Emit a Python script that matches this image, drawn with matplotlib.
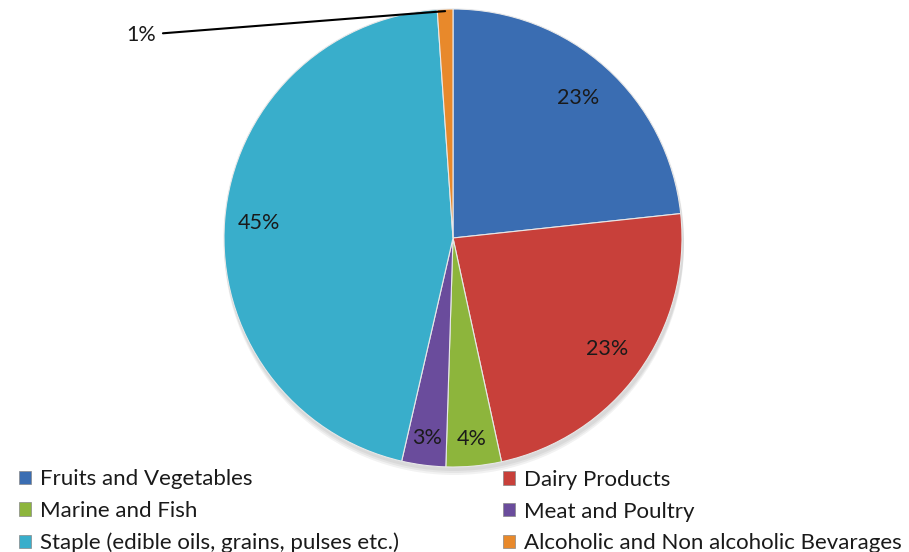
import numpy as np
import matplotlib.pyplot as plt
from matplotlib.patches import Patch

plt.rcParams['font.family'] = ['Lato', 'DejaVu Sans']

# Data
categories = ["Fruits and Vegetables", "Dairy Products", "Marine and Fish",
              "Meat and Poultry", "Staple (edible oils, grains, pulses etc.)",
              "Alcoholic and Non alcoholic Bevarages"]
shares = [23.3, 23.3, 3.9, 3.1, 45.3, 1.1]
pct_labels = ["23%", "23%", "4%", "3%", "45%", "1%"]
colors = ["#3a6db2", "#c8403a", "#8db53c", "#6a4c9c", "#39aecb", "#e8892b"]

W, H = 909, 552
fig = plt.figure(figsize=(W / 100, H / 100), dpi=100)
ax = fig.add_axes([0, 0, 1, 1])

cx, cy, R = 453, H - 238, 229

# soft shadow under the pie
for k in range(3):
    sh = plt.Circle((cx + 1, cy - 3 - k * 2), R + 1, color='k', alpha=0.05, lw=0)
    ax.add_patch(sh)

wedges, _ = ax.pie(shares, colors=colors, startangle=90, counterclock=False,
                   center=(cx, cy), radius=R, frame=True,
                   wedgeprops=dict(edgecolor='#e8e8e8', linewidth=0.8))
ax.set_xlim(0, W)
ax.set_ylim(0, H)
ax.set_aspect('equal')
ax.axis('off')

# percent labels
dists = [0.82, 0.83, 0.88, 0.88, 0.85]
for w, lab, d in zip(wedges[:5], pct_labels[:5], dists):
    ang = np.deg2rad((w.theta1 + w.theta2) / 2)
    ax.text(cx + d * R * np.cos(ang), cy + d * R * np.sin(ang), lab,
            ha='center', va='center', fontsize=15.5, color='#1a1a1a')

# 1% label with leader line
w = wedges[5]
ang = np.deg2rad((w.theta1 + w.theta2) / 2)
px, py = cx + R * np.cos(ang), cy + R * np.sin(ang)
ax.annotate(pct_labels[5], xy=(px, py - 2), xytext=(156, H - 35),
            ha='right', va='center', fontsize=15.5, color='#1a1a1a',
            arrowprops=dict(arrowstyle='-', color='black', lw=1.5,
                            shrinkA=3, shrinkB=0))

# legend, two columns
handles = [Patch(facecolor=c, edgecolor='#888888', lw=0.5) for c in colors]
leg_kw = dict(frameon=False, fontsize=16, handlelength=0.55, handleheight=0.55,
              handletextpad=0.4, labelspacing=0.52, borderaxespad=0,
              labelcolor='#1a1a1a')
fig.legend(handles[0::2], categories[0::2], loc='lower left',
           bbox_to_anchor=(10 / W, -10 / H), **leg_kw)
fig.legend(handles[1::2], categories[1::2], loc='lower left',
           bbox_to_anchor=(494 / W, -10 / H), **leg_kw)

fig.savefig('out.png', dpi=100)
